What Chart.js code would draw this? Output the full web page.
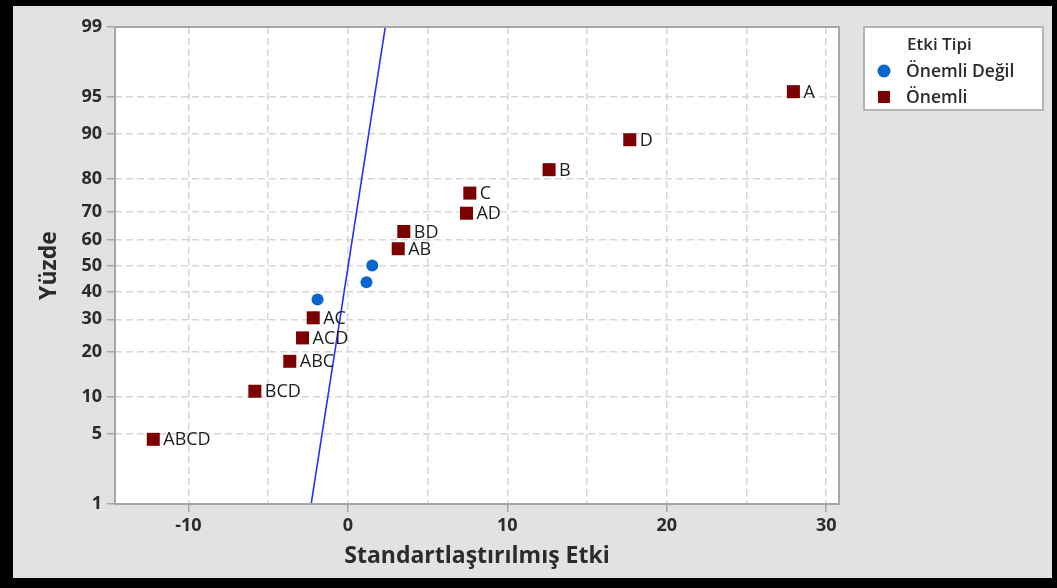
<!DOCTYPE html>
<html>
<head>
<meta charset="utf-8">
<script src="https://cdn.jsdelivr.net/npm/chart.js@4/dist/chart.umd.min.js"></script>
<style>
  html,body{margin:0;padding:0;background:#000;width:1057px;height:588px;overflow:hidden;}
  #wrap{position:absolute;left:13px;top:6px;width:1039px;height:572px;background:#e2e2e2;}
  canvas{display:block;}
</style>
</head>
<body>
<div id="wrap"><canvas id="c" width="1039" height="572"></canvas></div>
<script>
// ---- data ----
const sigLabels   = ['ABCD','BCD','ABC','ACD','AC','AB','BD','AD','C','B','D','A'];
const sigEffect   = [-12.2, -5.83, -3.64, -2.84, -2.17, 3.16, 3.51, 7.44, 7.65, 12.62, 17.68, 27.94];
const sigPercent  = [4.5, 11.0, 17.5, 24.0, 30.5, 56.5, 63.0, 69.5, 76.0, 82.5, 89.0, 95.5];
const nsEffect    = [-1.90, 1.17, 1.53];
const nsPercent   = [37.0, 43.5, 50.0];
const refLineEffect  = [-2.3, 2.35];
const refLinePercent = [1, 99];
const yTickPercents = [1, 5, 10, 20, 30, 40, 50, 60, 70, 80, 90, 95, 99];
const xTickValues   = [-10, -5, 0, 5, 10, 15, 20, 25, 30];
const xLabelValues  = [-10, 0, 10, 20, 30];
const legendTitle = 'Etki Tipi';
const legendNames = ['Önemli Değil', 'Önemli'];
const xTitle = 'Standartlaştırılmış Etki';
const yTitle = 'Yüzde';

// inverse standard normal CDF (probability-scale transform)
function probit(p){
  const a=[-39.69683028665376,220.9460984245205,-275.9285104469687,138.3577518672690,-30.66479806614716,2.506628277459239];
  const b=[-54.47609879822406,161.5858368580409,-155.6989798598866,66.80131188771972,-13.28068155288572];
  const c=[-0.007784894002430293,-0.3223964580411365,-2.400758277161838,-2.549732539343734,4.374664141464968,2.938163982698783];
  const d=[0.007784695709041462,0.3224671290700398,2.445134137142996,3.754408661907416];
  const pl=0.02425; let q,r;
  if(p<pl){q=Math.sqrt(-2*Math.log(p));return (((((c[0]*q+c[1])*q+c[2])*q+c[3])*q+c[4])*q+c[5])/((((d[0]*q+d[1])*q+d[2])*q+d[3])*q+1);}
  if(p>1-pl){q=Math.sqrt(-2*Math.log(1-p));return -(((((c[0]*q+c[1])*q+c[2])*q+c[3])*q+c[4])*q+c[5])/((((d[0]*q+d[1])*q+d[2])*q+d[3])*q+1);}
  q=p-0.5;r=q*q;return (((((a[0]*r+a[1])*r+a[2])*r+a[3])*r+a[4])*r+a[5])*q/(((((b[0]*r+b[1])*r+b[2])*r+b[3])*r+b[4])*r+1);
}
const toPts = (xs, ps) => xs.map((x,i)=>({x:x, y:probit(ps[i]/100)}));

const BLUE = '#0a66cc', RED = '#7d0000';
const FONT = '"Open Sans", "Noto Sans", sans-serif';
const TXT = '#2b2b2b';

const bgPlugin = {
  id:'bg',
  beforeDraw(chart){
    const {ctx, chartArea:a} = chart;
    ctx.save(); ctx.fillStyle='#ffffff'; ctx.fillRect(a.left,a.top,a.right-a.left,a.bottom-a.top); ctx.restore();
  }
};
const overlayPlugin = {
  id:'overlay',
  afterDraw(chart){
    const {ctx, chartArea:a} = chart;
    ctx.save();
    // plot frame
    ctx.strokeStyle='#a6a6a6'; ctx.lineWidth=2;
    ctx.strokeRect(a.left, a.top, a.right-a.left, a.bottom-a.top);
    // point labels
    const meta = chart.getDatasetMeta(2);
    ctx.font = '18px ' + FONT; ctx.fillStyle = '#1e1e1e'; ctx.textAlign='left'; ctx.textBaseline='middle';
    meta.data.forEach((el,i)=>{ ctx.fillText(sigLabels[i], el.x + 10, el.y + 1); });
    // legend
    const lx=851, ly=21, lw=179, lh=83;
    ctx.fillStyle='#ffffff'; ctx.fillRect(lx,ly,lw,lh);
    ctx.strokeStyle='#b4b4b4'; ctx.lineWidth=2; ctx.strokeRect(lx,ly,lw,lh);
    ctx.fillStyle=TXT; ctx.font='600 17px '+FONT; ctx.textBaseline='middle';
    ctx.fillText(legendTitle, lx+43, ly+18);
    ctx.font='600 17.5px '+FONT;
    ctx.fillStyle=BLUE; ctx.beginPath(); ctx.arc(lx+20, ly+44, 6.5, 0, Math.PI*2); ctx.fill();
    ctx.fillStyle=TXT; ctx.fillText(legendNames[0], lx+42, ly+45);
    ctx.fillStyle=RED; ctx.fillRect(lx+14, ly+64, 12, 12);
    ctx.fillStyle=TXT; ctx.fillText(legendNames[1], lx+42, ly+71);
    ctx.restore();
  }
};

new Chart(document.getElementById('c'), {
  type:'scatter',
  data:{
    datasets:[
      { label:'ref', data: toPts(refLineEffect, refLinePercent), showLine:true,
        borderColor:'#2b2bff', borderWidth:1.6, pointRadius:0, fill:false },
      { label:legendNames[0], data: toPts(nsEffect, nsPercent), pointStyle:'circle',
        pointRadius:6, backgroundColor:BLUE, borderWidth:0 },
      { label:legendNames[1], data: toPts(sigEffect, sigPercent), pointStyle:'rect',
        pointRadius:9.2, backgroundColor:RED, borderWidth:0 }
    ]
  },
  options:{
    responsive:false, animation:false,
    layout:{padding:{left:0, top:21, right:213, bottom:0}},
    plugins:{legend:{display:false}, tooltip:{enabled:false}},
    scales:{
      x:{
        type:'linear', min:-14.6, max:30.8,
        afterBuildTicks(s){ s.ticks = xTickValues.map(v=>({value:v})); },
        afterFit(s){ s.height = 74; },
        ticks:{ autoSkip:false, maxRotation:0, padding:3, color:TXT,
          font:{family:FONT, size:18, weight:'bold'},
          callback:(v)=> xLabelValues.includes(v) ? String(v) : '' },
        grid:{ color:'#d6d6d6', lineWidth:1.5, tickLength:8, tickWidth:1.5,
          tickColor:(ctx)=> (ctx.tick && xLabelValues.includes(ctx.tick.value)) ? '#a6a6a6' : 'rgba(0,0,0,0)' },
        border:{display:false, dash:[7,4]},
        title:{display:true, text:xTitle, color:TXT, font:{family:FONT, size:23, weight:'bold'}, padding:{top:0,bottom:8}}
      },
      y:{
        type:'linear', min:probit(0.01), max:probit(0.99),
        afterBuildTicks(s){ s.ticks = yTickPercents.map(p=>({value:probit(p/100)})); },
        afterFit(s){ s.width = 102; },
        ticks:{ autoSkip:false, padding:5, color:TXT,
          font:{family:FONT, size:18, weight:'bold'},
          callback:(v,i)=> String(yTickPercents[i]) },
        grid:{ color:'#d6d6d6', lineWidth:1.5, tickLength:8, tickWidth:1.5, tickColor:'#a6a6a6' },
        border:{display:false, dash:[7,4]},
        title:{display:true, text:yTitle, color:TXT, font:{family:FONT, size:23, weight:'bold'}, padding:{top:23,bottom:0}}
      }
    }
  },
  plugins:[bgPlugin, overlayPlugin]
});
</script>
</body>
</html>
